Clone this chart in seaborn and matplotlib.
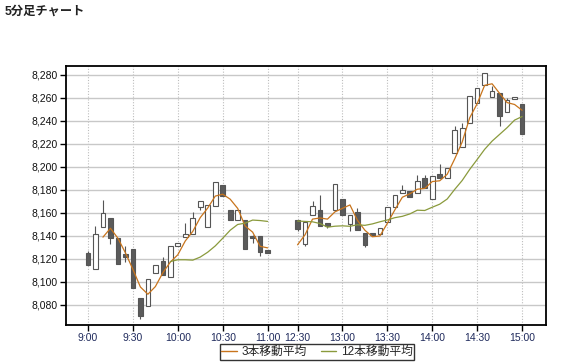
import numpy as np
import pandas as pd
import matplotlib
matplotlib.use("Agg")
import matplotlib.pyplot as plt
from matplotlib.lines import Line2D
import seaborn as sns

# ---------------- data ----------------
am_times = ["9:00", "9:05", "9:10", "9:15", "9:20", "9:25", "9:30", "9:35", "9:40", "9:45",
            "9:50", "9:55", "10:00", "10:05", "10:10", "10:15", "10:20", "10:25", "10:30",
            "10:35", "10:40", "10:45", "10:50", "10:55", "11:00"]
am_open = [8125, 8111, 8148, 8156, 8138, 8124, 8129, 8086, 8079, 8108, 8118, 8104, 8131,
           8139, 8142, 8165, 8148, 8166, 8184, 8163, 8154, 8154, 8140, 8140, 8128]
am_high = [8127, 8149, 8171, 8156, 8138, 8131, 8129, 8086, 8103, 8115, 8122, 8131, 8134,
           8151, 8161, 8170, 8167, 8187, 8184, 8163, 8163, 8154, 8141, 8140, 8128]
am_low = [8115, 8111, 8148, 8133, 8116, 8117, 8095, 8068, 8079, 8108, 8106, 8104, 8131,
          8139, 8142, 8163, 8148, 8166, 8175, 8154, 8154, 8129, 8134, 8123, 8125]
am_close = [8115, 8142, 8160, 8138, 8116, 8122, 8095, 8070, 8103, 8115, 8106, 8131, 8134,
            8142, 8156, 8170, 8167, 8187, 8175, 8154, 8163, 8129, 8138, 8126, 8125]

pm_times = ["12:30", "12:35", "12:40", "12:45", "12:50", "12:55", "13:00", "13:05", "13:10",
            "13:15", "13:20", "13:25", "13:30", "13:35", "13:40", "13:45", "13:50", "13:55",
            "14:00", "14:05", "14:10", "14:15", "14:20", "14:25", "14:30", "14:35", "14:40",
            "14:45", "14:50", "14:55", "15:00"]
pm_open = [8154, 8133, 8158, 8163, 8151, 8163, 8172, 8150, 8161, 8143, 8143, 8142, 8152,
           8165, 8177, 8179, 8177, 8190, 8172, 8194, 8190, 8212, 8217, 8238, 8256, 8271,
           8261, 8264, 8248, 8259, 8255]
pm_high = [8154, 8152, 8170, 8176, 8151, 8185, 8172, 8158, 8164, 8143, 8143, 8147, 8165,
           8176, 8184, 8179, 8193, 8193, 8192, 8203, 8199, 8236, 8238, 8262, 8269, 8282,
           8270, 8264, 8260, 8261, 8255]
pm_low = [8144, 8131, 8158, 8149, 8147, 8163, 8158, 8144, 8145, 8130, 8141, 8142, 8152,
          8165, 8177, 8174, 8177, 8182, 8172, 8190, 8190, 8212, 8217, 8238, 8256, 8271,
          8261, 8236, 8248, 8259, 8229]
pm_close = [8146, 8152, 8166, 8149, 8149, 8185, 8158, 8158, 8145, 8132, 8141, 8147, 8165,
            8176, 8180, 8174, 8188, 8182, 8192, 8190, 8199, 8232, 8234, 8262, 8269, 8282,
            8266, 8244, 8258, 8261, 8229]

tick_labels = ["9:00", "9:30", "10:00", "10:30", "11:00", "12:30", "13:00", "13:30",
               "14:00", "14:30", "15:00"]
y_ticks = [8080, 8100, 8120, 8140, 8160, 8180, 8200, 8220, 8240, 8260, 8280]
ma_names = ["3本移動平均", "12本移動平均"]
ma_windows = [3, 12]
title = "5分足チャート"

# ---------------- table ----------------
LUNCH_GAP = 3  # empty slots between sessions
am = pd.DataFrame({"time": am_times, "open": am_open, "high": am_high,
                   "low": am_low, "close": am_close, "session": "am"})
pm = pd.DataFrame({"time": pm_times, "open": pm_open, "high": pm_high,
                   "low": pm_low, "close": pm_close, "session": "pm"})
df = pd.concat([am, pm], ignore_index=True)
df["x"] = np.arange(len(df)) + np.where(df["session"] == "pm", LUNCH_GAP, 0)
for w, name in zip(ma_windows, ma_names):
    df[name] = df["close"].rolling(w).mean()

# ---------------- style ----------------
sns.set_style("white")
plt.rcParams["font.family"] = ["Liberation Sans", "Noto Sans CJK JP", "DejaVu Sans"]

fig = plt.figure(figsize=(5.61, 3.63), dpi=100)
ax = fig.add_axes([66 / 561, 38 / 363, 480 / 561, 259 / 363])

up_face, dn_face, edge = "white", "#5b5b5b", "#555555"
bw = 0.62
for _, r in df.iterrows():
    up = r["close"] >= r["open"]
    lo_b, hi_b = min(r["open"], r["close"]), max(r["open"], r["close"])
    ax.vlines(r["x"], r["low"], r["high"], color=edge, lw=0.8, zorder=3)
    h = max(hi_b - lo_b, 1.0)
    ax.bar(r["x"], h, bottom=lo_b, width=bw,
           color=up_face if up else dn_face, edgecolor=edge, lw=0.8, zorder=4)

ma_colors = ["#c8741c", "#8a9a3c"]
for name, c in zip(ma_names, ma_colors):
    for s in ["am", "pm"]:
        sub = df[df["session"] == s].dropna(subset=[name])
        sns.lineplot(data=sub, x="x", y=name, ax=ax, color=c, lw=0.9,
                     zorder=5, legend=False, sort=True)

# axes
xs = df.set_index("time")["x"]
ax.set_xticks([xs[t] for t in tick_labels])
ax.set_xticklabels(tick_labels, fontsize=7.5, color="#1f2a5c")
ax.set_yticks(y_ticks)
ax.set_yticklabels([f"{v:,}" for v in y_ticks], fontsize=7.5, color="#111111")
ax.set_xlim(-2.94, 61.2)
ax.set_ylim(8062.6, 8287.8)
ax.set_xlabel("")
ax.set_ylabel("")
ax.grid(axis="y", color="#c8c8c8", lw=1.0, ls="-", zorder=0)
ax.grid(axis="x", color="#bdbdbd", lw=0.8, ls=(0, (1, 1.5)), zorder=0)
ax.set_axisbelow(True)
for sp in ax.spines.values():
    sp.set_color("black")
    sp.set_linewidth(1.3)
ax.tick_params(axis="both", direction="out", length=4, width=1, color="black",
               left=True, bottom=True, pad=2)

fig.text(5 / 561, 1 - 12 / 363, title, fontsize=8.8, fontweight="bold",
         va="center", ha="left", color="#222222")

handles = [Line2D([0], [0], color=c, lw=1) for c in ma_colors]
leg = fig.legend(handles, ma_names, loc="center", bbox_to_anchor=(317 / 561, 1 - 352 / 363),
                 ncol=2, frameon=True, fancybox=False, fontsize=8.5, handlelength=1.3,
                 handletextpad=0.4, columnspacing=1.2, borderpad=0.15, borderaxespad=0)
leg.get_frame().set_edgecolor("black")
leg.get_frame().set_linewidth(1.0)

fig.savefig("out.png", dpi=100)
